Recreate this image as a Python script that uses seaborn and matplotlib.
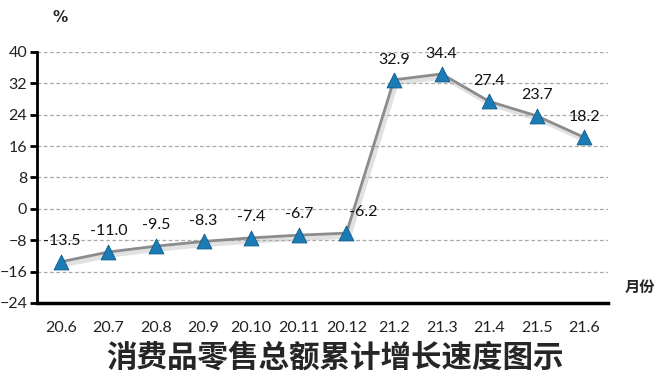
import pandas as pd
import matplotlib
matplotlib.use('Agg')
import matplotlib.pyplot as plt
import matplotlib.patheffects as pe
import seaborn as sns

months = ['20.6', '20.7', '20.8', '20.9', '20.10', '20.11', '20.12',
          '21.2', '21.3', '21.4', '21.5', '21.6']
growth = [-13.5, -11.0, -9.5, -8.3, -7.4, -6.7, -6.2,
          32.9, 34.4, 27.4, 23.7, 18.2]
yticks = [-24, -16, -8, 0, 8, 16, 24, 32, 40]

df = pd.DataFrame({'month': months, 'growth': growth})
df['pos'] = range(len(df))

sns.set_style('white')
plt.rcParams['font.family'] = ['Lato', 'Noto Sans CJK SC', 'DejaVu Sans']

fig = plt.figure(figsize=(6.68, 3.85), dpi=100)
ax = fig.add_axes([0.0554, 0.213, 0.855, 0.652])

shadow = [pe.SimpleLineShadow(offset=(1.5, -2), shadow_color='#aaaaaa', alpha=0.35, linewidth=4),
          pe.Normal()]
sns.lineplot(data=df, x='pos', y='growth', ax=ax, color='#8c8c8c', linewidth=2,
             path_effects=shadow, zorder=3)
sns.scatterplot(data=df, x='pos', y='growth', ax=ax, marker='^', s=115,
                color='#1b7bb5', edgecolor='#0d5a8c', linewidth=0.6, zorder=4)

# label offsets (points) so they sit like the original
offsets = {0: (1, 10), 6: (12, 10), 7: (0, 9), 8: (0, 9)}
for i, (x, y) in enumerate(zip(df['pos'], df['growth'])):
    dx, dy = offsets.get(i, (0, 10))
    ax.annotate(f'{y:.1f}', (x, y), xytext=(dx, dy), textcoords='offset points',
                ha='center', va='bottom', fontsize=11.5, color='#111111', zorder=5)

ax.set_xlim(-0.5, 11.5)
ax.set_ylim(-24, 40)
ax.set_yticks(yticks)
ax.set_xticks(df['pos'])
ax.set_xticklabels(months)
ax.yaxis.grid(True, linestyle=(0, (3, 2)), color='#aaaaaa', linewidth=0.9)
ax.xaxis.grid(False)
ax.set_xlabel('')
ax.set_ylabel('')

for side in ['top', 'right']:
    ax.spines[side].set_visible(False)
for side in ['left', 'bottom']:
    ax.spines[side].set_color('black')
ax.spines['left'].set_linewidth(2)
ax.spines['bottom'].set_linewidth(2.5)

ax.tick_params(axis='y', direction='out', length=5, width=2, color='black',
               labelsize=11.5, labelcolor='#222222', pad=2, left=True)
ax.tick_params(axis='x', length=0, labelsize=11.5, labelcolor='#222222', pad=13)

fig.text(0.09, 0.955, '%', fontsize=11, fontweight='bold', ha='center', va='center',
         family=['DejaVu Sans'])
fig.text(0.958, 0.255, '月份', fontsize=11, fontweight='bold', ha='center', va='center',
         family=['Noto Sans CJK SC'])
fig.text(0.502, 0.07, '消费品零售总额累计增长速度图示', fontsize=22, ha='center', va='center',
         family=['Noto Sans CJK SC'], fontweight='bold')

plt.savefig('out.png', dpi=100)
